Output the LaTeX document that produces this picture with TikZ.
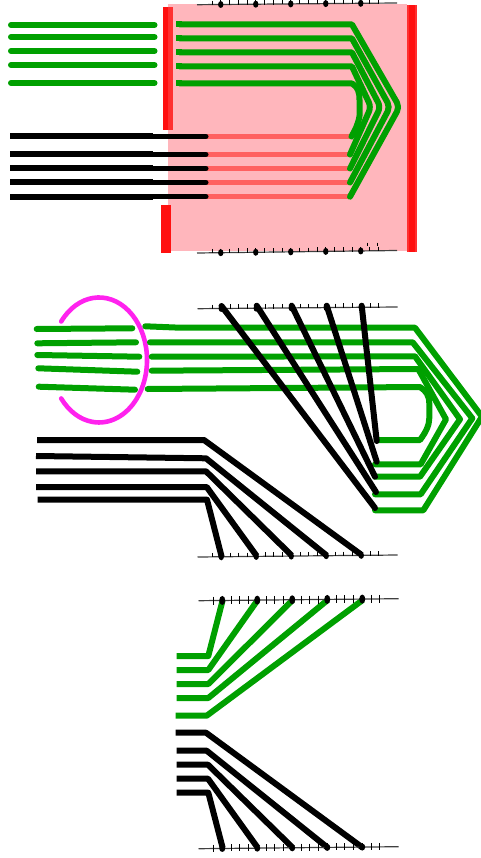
\documentclass[tikz,border=0pt]{standalone}
\definecolor{wgreen}{RGB}{0,160,0}
\definecolor{wpink}{RGB}{255,182,188}
\definecolor{wred}{RGB}{255,16,16}
\definecolor{wredl}{RGB}{255,48,48}
\definecolor{wsalmon}{RGB}{255,96,96}
\definecolor{wmag}{RGB}{255,34,238}
\tikzset{
  gw/.style={draw=wgreen,line width=6pt,line join=round},
  gr/.style={gw,line cap=round},
  bw/.style={draw=black,line width=6pt,line join=round},
  br/.style={bw,line cap=round},
  sw/.style={draw=wsalmon,line width=5.6pt},
  axisline/.style={draw=black!75,line width=1.2pt},
  tickmark/.style={draw=black,line width=1pt},
}
\newcommand{\tickaxis}[6]{%
  % #1 x shift, #2 y at left end, #3 y at right end, #4 tick depth below, #5 dot rx, #6 dot ry
  \draw[axisline] (197+#1,#2) -- (397+#1,#3);
  \foreach \i in {0,...,19}{%
    \pgfmathsetmacro\tx{212+8.75*\i+#1}%
    \pgfmathsetmacro\ty{#2+(#3-#2)*(\tx-197-#1)/200}%
    \draw[tickmark] (\tx,\ty-4) -- (\tx,\ty+#4);
    \pgfmathtruncatemacro\isdot{mod(\i,4)==1 && \i<18 ? 1 : 0}%
    \ifnum\isdot=1 \fill[black] (\tx,\ty) ellipse[x radius=#5pt,y radius=#6pt];\fi
  }%
}
\begin{document}
\begin{tikzpicture}[x=1pt,y=-1pt]
\useasboundingbox (0,0) rectangle (481,858);
\begin{scope}
\clip (0,0) rectangle (481,858);
% ---- panel 1 ----
\fill[wpink] (168,4) rectangle (407,251);
\fill[wred] (162.7,7) rectangle (168,130);
\fill[wredl] (168,7) rectangle (172.7,130);
\fill[wred] (161,205) rectangle (171,253);
\fill[wredl] (406.7,5) rectangle (416.7,252);
\fill[wred] (408.5,5) rectangle (415,252);
\tickaxis{0}{4.7}{3}{0.5}{2.7}{3.5}
\tickaxis{0}{253}{250.5}{0.5}{2.7}{3.5}
\draw[tickmark] (367.7,242.7) -- (367.7,246);
\draw[tickmark] (377,242.7) -- (377,246);
\foreach \y in {25,37,51,65,83}{\draw[gr] (11,\y) -- (154.5,\y);}
\foreach \y in {136.5,154.5,168.5,182.5,196.7}{
  \draw[sw] (207,\y) -- (350,\y);
  \draw[bw] (10,\y) -- (153,\y);
  \draw[br,line width=5pt] (153,\y) -- (206,\y);
}
\foreach \y in {24.5,38.5,52.5,66.5,83.5}{\draw[gw] (176,\y) -- (182,\y);}
\draw[gr] (180,24.5) -- (352,24.5) [rounded corners=5pt] -- (399.5,107) -- (350,196.7);
\draw[gr] (180,38.5) -- (352,38.5) [rounded corners=5pt] -- (390,107) -- (350,182.5);
\draw[gr] (180,52.5) -- (352,52.5) [rounded corners=5pt] -- (380.5,107) -- (350,168.5);
\draw[gr] (180,66.5) -- (352,66.5) [rounded corners=5pt] -- (371,107) -- (350,154.5);
\draw[gr] (180,83.5) -- (352,83.5) .. controls (358,87) and (359.5,92) .. (359.5,100) -- (359.5,116) .. controls (358,125) and (355,130) .. (351.5,136.5);
% ---- panel 2 ----
\draw[wmag,line width=4.6pt,line cap=round] (61.2,321.5) arc[start angle=142,end angle=-142,x radius=48pt,y radius=62.5pt];
\draw[gr] (36.7,329) -- (132.3,328.3);
\draw[gr] (37.3,343.3) -- (136,342.3);
\draw[gr] (37.3,355) -- (139.3,356.7);
\draw[gr] (38.3,368.3) -- (137.3,371.7);
\draw[gr] (38.7,386.7) -- (135,389.7);
\draw[gr] (145.3,326.3) -- (180,327.7) -- (415,327.7) -- (482,416.7) -- (423.3,510.3) -- (375,510.3);
\draw[gr] (150,342.3) -- (412.7,342.3) -- (472.3,418.3) -- (420.7,494.3) -- (375,494.3);
\draw[gr] (151.7,356.7) -- (415,356.3) -- (460,419.3) -- (420,476.7) -- (375,476.7);
\draw[gr] (151.7,370.7) -- (418.3,369) -- (446,419.3) -- (420.7,464.3) -- (375,464.3);
\draw[gr] (147.7,389) -- (420,387) .. controls (426,391) and (429.3,395) .. (429.3,404) -- (429.3,418) .. controls (429.3,425) and (426,432) .. (420,440) -- (376.7,440);
\tickaxis{0.5}{308.7}{307}{0.5}{2.7}{3.5}
\tickaxis{0.5}{557}{555}{0.5}{2.7}{3.5}
\draw[br] (221.5,306) -- (375,508);
\draw[br] (256.7,305.7) -- (376,492);
\draw[br] (291.7,305.7) -- (375,476.7);
\draw[br] (326.7,305.7) -- (376.7,461.7);
\draw[br] (361.7,305.7) -- (376.7,441);
\draw[bw] (37,440) -- (204,440) -- (361.7,555);
\draw[bw] (36,456) -- (206,458.3) -- (326.7,555.5);
\draw[bw] (36,471.3) -- (206,471.3) -- (291.7,555.5);
\draw[bw] (36,487) -- (206.7,487) -- (256.7,556);
\draw[bw] (37.7,499.7) -- (207,499.7) -- (221.7,557);
% ---- panel 3 ----
\draw[gw] (176.7,656) -- (208.3,656) -- (222.7,600);
\draw[gw] (176.7,670) -- (208.3,670) -- (257.7,600);
\draw[gw] (176.7,684) -- (208.3,684) -- (292.7,600);
\draw[gw] (176.7,698) -- (208.3,698) -- (327.7,600);
\draw[gw] (175.7,715.7) -- (206.7,715.7) -- (362.7,600);
\draw[bw] (175.7,732.7) -- (206,732.7) -- (362.7,847.7);
\draw[bw] (176.7,750.7) -- (206.7,750.7) -- (327.7,847.7);
\draw[bw] (176.7,764.7) -- (208,764.7) -- (292.7,847.7);
\draw[bw] (176.7,778.7) -- (208,778.7) -- (257.7,847.7);
\draw[bw] (176.7,792.7) -- (208.3,792.7) -- (222.7,848);
\tickaxis{1.5}{600.7}{598.7}{4}{3}{4.5}
\tickaxis{1.5}{848.7}{846.7}{3}{3}{3.5}
\end{scope}
\end{tikzpicture}
\end{document}
